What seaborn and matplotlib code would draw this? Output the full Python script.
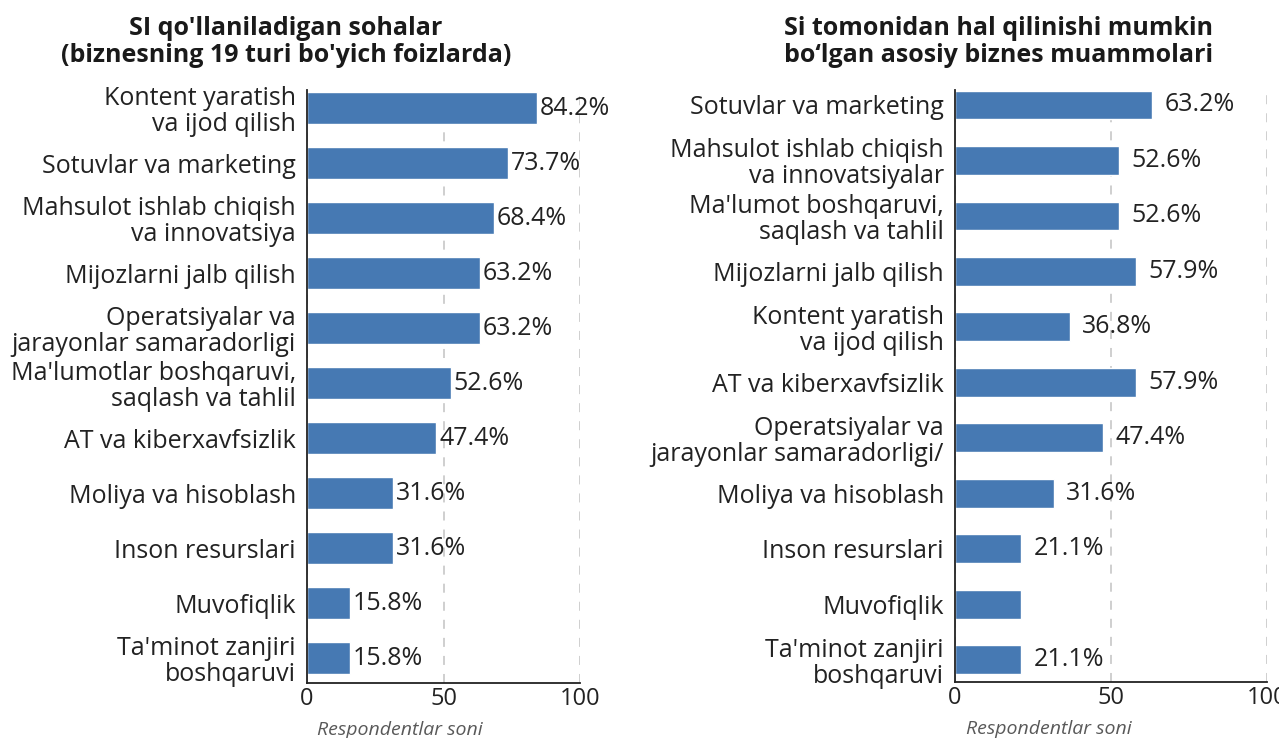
import matplotlib
matplotlib.use("Agg")
import matplotlib.pyplot as plt
import seaborn as sns
import pandas as pd

# ---- data ----
left_title = "SI qo'llaniladigan sohalar\n(biznesning 19 turi bo'yich foizlarda)"
left_categories = [
    "Kontent yaratish\nva ijod qilish",
    "Sotuvlar va marketing",
    "Mahsulot ishlab chiqish\nva innovatsiya",
    "Mijozlarni jalb qilish",
    "Operatsiyalar va\njarayonlar samaradorligi",
    "Ma'lumotlar boshqaruvi,\nsaqlash va tahlil",
    "AT va kiberxavfsizlik",
    "Moliya va hisoblash",
    "Inson resurslari",
    "Muvofiqlik",
    "Ta'minot zanjiri\nboshqaruvi",
]
left_values = [84.2, 73.7, 68.4, 63.2, 63.2, 52.6, 47.4, 31.6, 31.6, 15.8, 15.8]
left_labels = ["84.2%", "73.7%", "68.4%", "63.2%", "63.2%", "52.6%", "47.4%",
               "31.6%", "31.6%", "15.8%", "15.8%"]

right_title = "Si tomonidan hal qilinishi mumkin\nbo\u2018lgan asosiy biznes muammolari"
right_categories = [
    "Sotuvlar va marketing",
    "Mahsulot ishlab chiqish\nva innovatsiyalar",
    "Ma'lumot boshqaruvi,\nsaqlash va tahlil",
    "Mijozlarni jalb qilish",
    "Kontent yaratish\nva ijod qilish",
    "AT va kiberxavfsizlik",
    "Operatsiyalar va\njarayonlar samaradorligi/",
    "Moliya va hisoblash",
    "Inson resurslari",
    "Muvofiqlik",
    "Ta'minot zanjiri\nboshqaruvi",
]
right_values = [63.2, 52.6, 52.6, 57.9, 36.8, 57.9, 47.4, 31.6, 21.1, 21.1, 21.1]
right_labels = ["63.2%", "52.6%", "52.6%", "57.9%", "36.8%", "57.9%", "47.4%",
                "31.6%", "21.1%", "", "21.1%"]

x_ticks = [0, 50, 100]
x_label = "Respondentlar soni"

# ---- style ----
sns.set_theme(style="white")
plt.rcParams["font.family"] = ["Open Sans", "DejaVu Sans"]

BAR = "#4679B3"
TXT = "#222222"

fig = plt.figure(figsize=(12.79, 7.38), dpi=100)
W, H = 1279, 738

def make_panel(rect, cats, vals, labels, title, title_x, bar_w, ylim, lab_pad):
    ax = fig.add_axes(rect)
    df = pd.DataFrame({"cat": cats, "val": vals})
    sns.barplot(data=df, y="cat", x="val", orient="h", color=BAR,
                width=bar_w, saturation=1, ax=ax, order=cats)
    ax.set_xlim(0, 100)
    ax.set_ylim(*ylim)
    ax.set_xticks(x_ticks)
    ax.set_xticklabels([str(t) for t in x_ticks], fontsize=17, color=TXT)
    ax.tick_params(axis="y", labelsize=18, labelcolor=TXT, length=0, pad=8)
    ax.tick_params(axis="x", length=0, pad=3)
    for t in ax.get_yticklabels():
        t.set_linespacing(1.05)
    ax.set_ylabel("")
    ax.set_xlabel(x_label, fontsize=14, style="italic", color="#595959",
                  loc="left", labelpad=7)
    ax.xaxis.label.set_x(0.035)
    ax.xaxis.grid(True, linestyle=(0, (5, 5)), color="#cccccc", linewidth=1.3)
    ax.yaxis.grid(False)
    ax.set_axisbelow(True)
    for s in ["top", "right"]:
        ax.spines[s].set_visible(False)
    for s in ["left", "bottom"]:
        ax.spines[s].set_color("#222222")
        ax.spines[s].set_linewidth(1.3)
    for cont in ax.containers:
        ax.bar_label(cont, labels=labels, padding=lab_pad, fontsize=18, color=TXT)
    fig.text(title_x, 1 - 16 / H, title, ha="center", va="top", fontsize=18,
             fontweight="bold", color="#1a1a1a", linespacing=1.1)
    return ax

make_panel([307 / W, 1 - 683 / H, 273 / W, 593 / H], left_categories, left_values,
           left_labels, left_title, 286 / W, 0.58, (10.45, -0.33), 2)
make_panel([955 / W, 1 - 682 / H, 312 / W, 592 / H], right_categories, right_values,
           right_labels, right_title, 999 / W, 0.52, (10.4, -0.27), 9)

fig.savefig("out.png", dpi=100)
